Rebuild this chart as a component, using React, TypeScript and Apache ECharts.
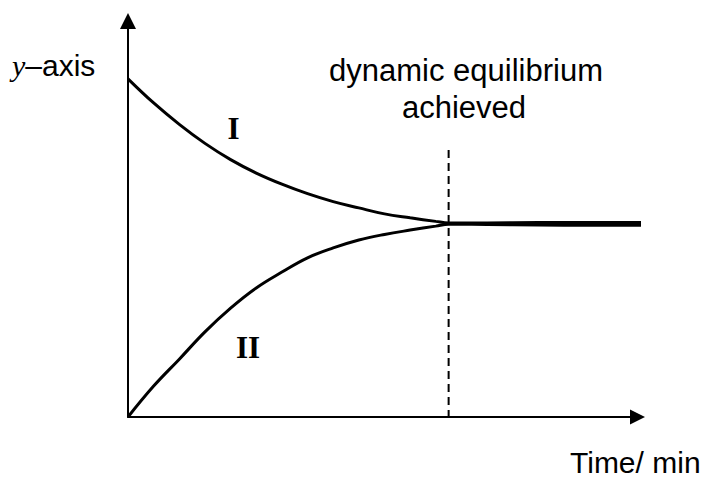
import React, { useEffect, useRef } from "react";
import * as echarts from "echarts";

// Time (min) sample positions
const timePoints = [0, 0.5, 1, 1.5, 2, 2.5, 3, 3.5, 4, 4.5, 5, 5.5, 6, 6.25, 7, 8, 9, 10];
// Curve I (decreasing)
const curveI = [85.4, 79.3, 73.9, 69.1, 65.0, 61.6, 58.8, 56.4, 54.4, 52.8, 51.3, 50.3, 49.4, 49.0, 49.0, 49.1, 49.1, 49.1];
// Curve II (increasing)
const curveII = [0, 7.8, 14.6, 21.5, 27.5, 32.6, 36.6, 40.2, 42.7, 44.7, 46.1, 47.2, 48.2, 48.7, 48.6, 48.5, 48.4, 48.4];
// Equilibrium marker
const equilibriumTime = 6.25;
const equilibriumMarkerTop = 67.4;

const SANS = "'Liberation Sans', Arial, Helvetica, sans-serif";
const SERIF = "'Liberation Serif', 'Times New Roman', Times, serif";

export default function App() {
  const ref = useRef<HTMLDivElement>(null);

  useEffect(() => {
    document.body.style.margin = "0";
    if (!ref.current) return;
    const chart = echarts.init(ref.current, null, { renderer: "svg" });
    const pairs = (ys: number[]) => timePoints.map((t, i) => [t, ys[i]]);
    chart.setOption({
      animation: false,
      backgroundColor: "#ffffff",
      grid: { left: 128, right: 65, top: 21, bottom: 62 },
      xAxis: {
        type: "value",
        min: 0,
        max: 10,
        axisLine: {
          show: true,
          lineStyle: { color: "#000", width: 2 },
          symbol: ["none", "triangle"],
          symbolSize: [15, 15],
          symbolOffset: [0, -3.5],
        },
        axisTick: { show: false },
        axisLabel: { show: false },
        splitLine: { show: false },
      },
      yAxis: {
        type: "value",
        min: 0,
        max: 100,
        axisLine: {
          show: true,
          lineStyle: { color: "#000", width: 2 },
          symbol: ["none", "triangle"],
          symbolSize: [16, 16],
        },
        axisTick: { show: false },
        axisLabel: { show: false },
        splitLine: { show: false },
      },
      series: [
        {
          type: "line",
          name: "I",
          data: pairs(curveI),
          showSymbol: false,
          smooth: 0.4,
          clip: false,
          lineStyle: { color: "#000", width: 3 },
        },
        {
          type: "line",
          name: "II",
          data: pairs(curveII),
          showSymbol: false,
          smooth: 0.4,
          clip: false,
          lineStyle: { color: "#000", width: 3 },
        },
        {
          type: "line",
          name: "equilibrium",
          data: [
            [equilibriumTime, equilibriumMarkerTop],
            [equilibriumTime, 0],
          ],
          showSymbol: false,
          lineStyle: { color: "#000", width: 2, type: [8, 5] },
          z: 1,
        },
      ],
      graphic: [
        {
          type: "text",
          x: 12,
          y: 65,
          style: {
            text: "{y|y}{a|–axis}",
            textVerticalAlign: "middle",
            rich: {
              y: { fontFamily: SERIF, fontStyle: "italic", fontSize: 30, fill: "#000" },
              a: { fontFamily: SANS, fontSize: 30, fill: "#000" },
            },
          },
        },
        {
          type: "text",
          x: 466,
          y: 70,
          style: {
            text: "dynamic equilibrium",
            font: `31px ${SANS}`,
            fill: "#000",
            textAlign: "center",
            textVerticalAlign: "middle",
          },
        },
        {
          type: "text",
          x: 464,
          y: 107,
          style: {
            text: "achieved",
            font: `31px ${SANS}`,
            fill: "#000",
            textAlign: "center",
            textVerticalAlign: "middle",
          },
        },
        {
          type: "text",
          x: 233.5,
          y: 128,
          style: {
            text: "I",
            font: `bold 31px ${SERIF}`,
            fill: "#000",
            textAlign: "center",
            textVerticalAlign: "middle",
          },
        },
        {
          type: "text",
          x: 248,
          y: 347,
          style: {
            text: "II",
            font: `bold 31px ${SERIF}`,
            fill: "#000",
            textAlign: "center",
            textVerticalAlign: "middle",
          },
        },
        {
          type: "text",
          x: 570,
          y: 462,
          style: {
            text: "Time/ min",
            font: `30px ${SANS}`,
            fill: "#000",
            textAlign: "left",
            textVerticalAlign: "middle",
          },
        },
      ],
    });
    return () => chart.dispose();
  }, []);

  return (
    <div
      ref={ref}
      style={{ position: "fixed", left: 0, top: 0, width: 706, height: 479, background: "#fff" }}
    />
  );
}
